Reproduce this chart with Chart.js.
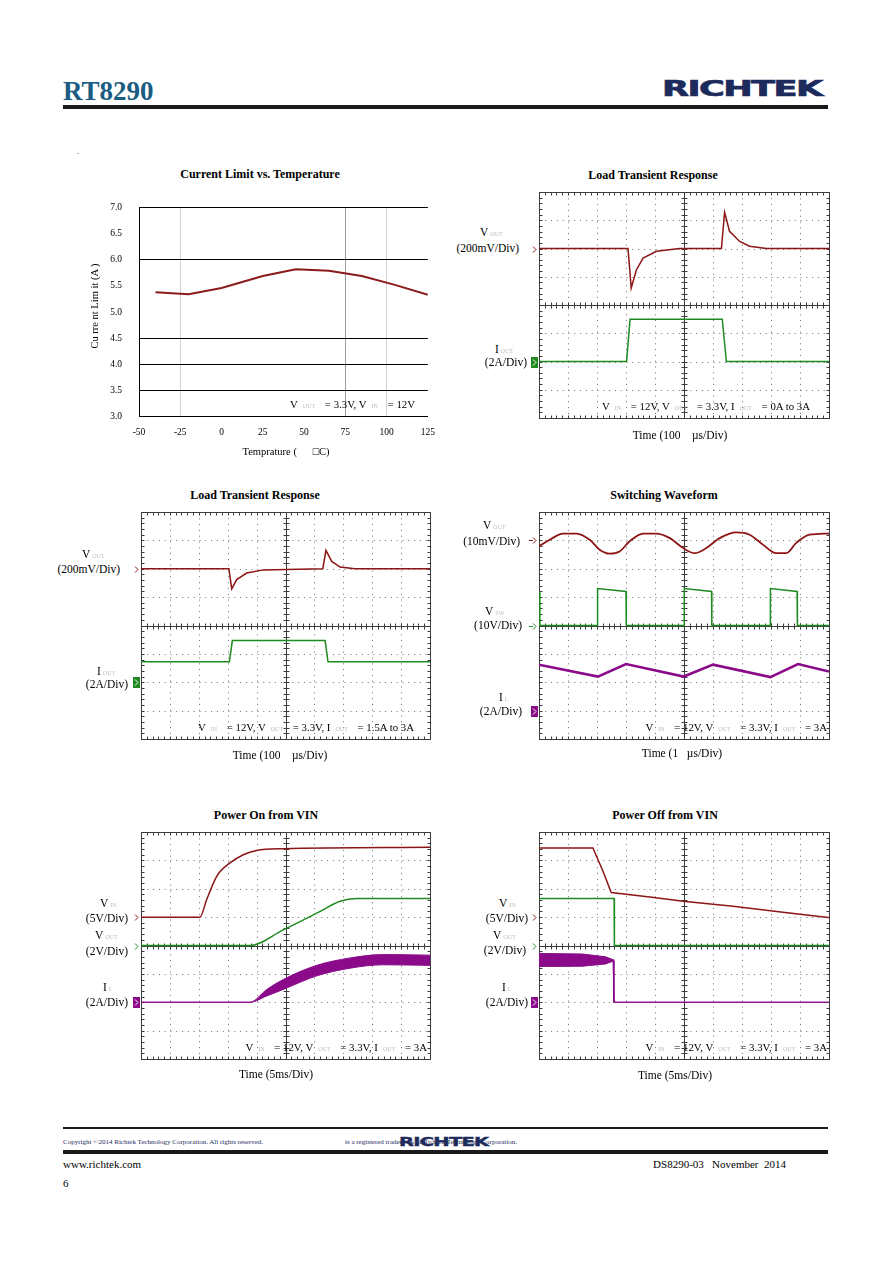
<!DOCTYPE html>
<html lang="en">
<head>
<meta charset="UTF-8" />
<script src="https://cdn.jsdelivr.net/npm/chart.js"></script>
<title>RT8290</title>
<style>
  body { margin: 0; width: 892px; height: 1263px; position: relative; background: #fff; font-family: "Liberation Serif", serif; color: #000; overflow: hidden; }
  canvas { position: absolute; }
  .t, .l, .r { position: absolute; white-space: nowrap; line-height: 1; }
  .t { transform: translate(-50%, -50%); }
  .l { transform: translate(0, -50%); }
  .r { transform: translate(-100%, -50%); }
  .ttl { font-weight: bold; font-size: 12px; }
  .lab { font-size: 11.5px; }
  .ann { font-size: 10.8px; }
  .s { font-size: 6px; color: #bdbdbd; margin: 0 3px 0 2px; }
  .ann .s { margin: 0 7px 0 5px; }
  .bar { position: absolute; background: #1a1a1a; }
  .logo { font-family: "DejaVu Sans"; font-weight: bold; color: #1d2b5c; -webkit-text-stroke: 0.7px #1d2b5c; transform-origin: left center; }
</style>
</head>
<body>
  <!-- header -->
  <div class="l" style="left:63px;top:91px;font-size:27px;font-weight:bold;color:#1b5c82">RT8290</div>
  <div class="l logo" style="left:662px;top:89px;font-size:22px;letter-spacing:-1px;transform:translate(0,-50%) scaleX(1.6)">RICHTEK</div>
  <div class="bar" style="left:63px;top:105px;width:765px;height:4px"></div>
  <div class="t" style="left:78px;top:152px;font-size:8px">.</div>

  <!-- chart 1 -->
  <div class="t ttl" style="left:260px;top:174px">Current Limit vs. Temperature</div>
  <canvas id="c1" width="350" height="254" style="left:95px;top:185px"></canvas>
  <div class="t" style="left:95px;top:306px;font-size:10.5px;transform:translate(-50%,-50%) rotate(-90deg)">Cu rre nt Lim it (A )</div>
  <div class="r ann" style="left:415px;top:404px">V<span class="s">OUT</span> = 3.3V, V<span class="s">IN</span> = 12V</div>
  <div class="t lab" style="left:286px;top:452px;font-size:10.5px">Temprature (&nbsp;&nbsp;&nbsp;&nbsp;&nbsp;&nbsp;&#9633;C)</div>

  <!-- chart 2 -->
  <div class="t ttl" style="left:653px;top:175px">Load Transient Response</div>
  <canvas id="c2" width="308" height="234" style="left:525px;top:188px"></canvas>
  <div class="l lab" style="left:480px;top:233px">V<span class="s">OUT</span></div>
  <div class="r lab" style="left:519px;top:249px">(200mV/Div)</div>
  <div class="l lab" style="left:495px;top:350px">I<span class="s">OUT</span></div>
  <div class="r lab" style="left:527px;top:363px">(2A/Div)</div>
  <div class="r ann" style="left:810px;top:406px">V<span class="s">IN</span> = 12V, V<span class="s">OUT</span> = 3.3V, I<span class="s">OUT</span> = 0A to 3A</div>
  <div class="t lab" style="left:680px;top:436px">Time (100&nbsp;&nbsp;&nbsp;&nbsp;&micro;s/Div)</div>

  <!-- chart 3 -->
  <div class="t ttl" style="left:255px;top:495px">Load Transient Response</div>
  <canvas id="c3" width="307" height="235" style="left:127px;top:508px"></canvas>
  <div class="l lab" style="left:82px;top:555px">V<span class="s">OUT</span></div>
  <div class="r lab" style="left:120px;top:570px">(200mV/Div)</div>
  <div class="l lab" style="left:97px;top:672px">I<span class="s">OUT</span></div>
  <div class="r lab" style="left:128px;top:685px">(2A/Div)</div>
  <div class="r ann" style="left:414px;top:727px">V<span class="s">IN</span> = 12V, V<span class="s">OUT</span> = 3.3V, I<span class="s">OUT</span> = 1.5A to 3A</div>
  <div class="t lab" style="left:280px;top:756px">Time (100&nbsp;&nbsp;&nbsp;&nbsp;&micro;s/Div)</div>

  <!-- chart 4 -->
  <div class="t ttl" style="left:664px;top:495px">Switching Waveform</div>
  <canvas id="c4" width="308" height="235" style="left:525px;top:508px"></canvas>
  <div class="l lab" style="left:483px;top:526px">V<span class="s">OUT</span></div>
  <div class="r lab" style="left:520px;top:542px">(10mV/Div)</div>
  <div class="l lab" style="left:485px;top:612px">V<span class="s">SW</span></div>
  <div class="r lab" style="left:522px;top:626px">(10V/Div)</div>
  <div class="l lab" style="left:499px;top:698px">I<span class="s">L</span></div>
  <div class="r lab" style="left:522px;top:712px">(2A/Div)</div>
  <div class="r ann" style="left:827px;top:727px">V<span class="s">IN</span> = 12V, V<span class="s">OUT</span> = 3.3V, I<span class="s">OUT</span> = 3A</div>
  <div class="t lab" style="left:682px;top:754px">Time (1&nbsp;&nbsp;&nbsp;&micro;s/Div)</div>

  <!-- chart 5 -->
  <div class="t ttl" style="left:266px;top:815px">Power On from VIN</div>
  <canvas id="c5" width="307" height="235" style="left:127px;top:828px"></canvas>
  <div class="l lab" style="left:100px;top:904px">V<span class="s">IN</span></div>
  <div class="r lab" style="left:128px;top:919px">(5V/Div)</div>
  <div class="l lab" style="left:95px;top:936px">V<span class="s">OUT</span></div>
  <div class="r lab" style="left:128px;top:952px">(2V/Div)</div>
  <div class="l lab" style="left:103px;top:988px">I<span class="s">L</span></div>
  <div class="r lab" style="left:128px;top:1003px">(2A/Div)</div>
  <div class="r ann" style="left:427px;top:1047px">V<span class="s">IN</span> = 12V, V<span class="s">OUT</span> = 3.3V, I<span class="s">OUT</span> = 3A</div>
  <div class="t lab" style="left:276px;top:1075px">Time (5ms/Div)</div>

  <!-- chart 6 -->
  <div class="t ttl" style="left:665px;top:815px">Power Off from VIN</div>
  <canvas id="c6" width="308" height="235" style="left:525px;top:828px"></canvas>
  <div class="l lab" style="left:499px;top:904px">V<span class="s">IN</span></div>
  <div class="r lab" style="left:528px;top:919px">(5V/Div)</div>
  <div class="l lab" style="left:493px;top:936px">V<span class="s">OUT</span></div>
  <div class="r lab" style="left:526px;top:951px">(2V/Div)</div>
  <div class="l lab" style="left:502px;top:988px">I<span class="s">L</span></div>
  <div class="r lab" style="left:528px;top:1003px">(2A/Div)</div>
  <div class="r ann" style="left:827px;top:1047px">V<span class="s">IN</span> = 12V, V<span class="s">OUT</span> = 3.3V, I<span class="s">OUT</span> = 3A</div>
  <div class="t lab" style="left:675px;top:1076px">Time (5ms/Div)</div>

  <!-- footer -->
  <div class="bar" style="left:63px;top:1127px;width:765px;height:2px"></div>
  <div class="l" style="left:63px;top:1142px;font-size:7px;color:#1d2b5c">Copyright &copy;2014 Richtek Technology Corporation. All rights reserved.</div>
  <div class="l" style="left:345px;top:1142px;font-size:7px;color:#1d2b5c">is a registered trademark of Richtek Technology Corporation.</div>
  <div class="l logo" style="left:399px;top:1141px;font-size:13px;letter-spacing:-0.5px;-webkit-text-stroke:0.4px #1d2b5c;transform:translate(0,-50%) scaleX(1.5)">RICHTEK</div>
  <div class="bar" style="left:63px;top:1150px;width:765px;height:3.5px"></div>
  <div class="l" style="left:63px;top:1164px;font-size:11px">www.richtek.com</div>
  <div class="r" style="left:786px;top:1164px;font-size:11px">DS8290-03&nbsp;&nbsp; November&nbsp; 2014</div>
  <div class="l" style="left:63px;top:1183px;font-size:11px">6</div>

<script>
  // ---- Current Limit vs. Temperature ----
  const tempC = [-40, -20, 0, 25, 45, 65, 85, 105, 125];
  const currentLimit = [5.38, 5.34, 5.46, 5.69, 5.82, 5.79, 5.69, 5.52, 5.33];
  const tempTicks = [-50, -25, 0, 25, 50, 75, 100, 125];

  // ---- scope traces, values in divisions (10 x 8 graticule) ----
  // Load transient 0A -> 3A
  const lt1VoutT = [0, 3.07, 3.18, 3.36, 3.59, 4.05, 4.85, 6.29, 6.4, 6.57, 6.92, 7.26, 7.84, 10];
  const lt1Vout  = [6.0, 6.0, 4.6, 5.25, 5.66, 5.9, 6.0, 6.0, 7.28, 6.61, 6.25, 6.08, 6.0, 6.0];
  const lt1IoutT = [0, 3.02, 3.14, 6.32, 6.46, 10];
  const lt1Iout  = [2.0, 2.0, 3.5, 3.5, 2.0, 2.0];

  // Load transient 1.5A -> 3A
  const lt2VoutT = [0, 3.04, 3.14, 3.31, 3.66, 4.23, 6.29, 6.4, 6.6, 6.89, 7.4, 10];
  const lt2Vout  = [6.0, 6.0, 5.29, 5.62, 5.85, 5.96, 6.0, 6.65, 6.26, 6.06, 6.0, 6.0];
  const lt2IoutT = [0, 3.06, 3.16, 6.37, 6.47, 10];
  const lt2Iout  = [2.72, 2.72, 3.47, 3.47, 2.72, 2.72];

  // Switching waveform
  const swVoutT = [0, 0.37, 0.83, 1.29, 1.75, 2.09, 2.44, 2.78, 3.13, 3.59, 4.05, 4.51, 4.97, 5.37, 5.77, 6.23, 6.8, 7.26, 7.72, 8.18, 8.53, 8.87, 9.33, 10];
  const swVout  = [6.79, 7.02, 7.24, 7.24, 7.02, 6.67, 6.53, 6.61, 6.97, 7.24, 7.24, 7.08, 6.73, 6.55, 6.73, 7.08, 7.28, 7.2, 6.85, 6.55, 6.55, 6.91, 7.2, 7.24];
  const swVswT = [0, 0.03, 0.03, 2.01, 2.02, 3.0, 3.01, 5.0, 5.01, 5.95, 5.96, 7.97, 7.98, 8.9, 8.91, 10];
  const swVsw  = [5.2, 5.2, 4.0, 4.0, 5.3, 5.2, 4.0, 4.0, 5.3, 5.2, 4.0, 4.0, 5.3, 5.2, 4.0, 4.0];
  const swIlT = [0, 2.03, 3.0, 4.99, 6.0, 7.98, 8.93, 10];
  const swIl  = [2.62, 2.2, 2.64, 2.2, 2.62, 2.18, 2.64, 2.38];

  // Power on from VIN
  const onVinT = [0, 2.04, 2.27, 2.62, 3.08, 3.54, 4.0, 4.92, 10];
  const onVin  = [5.0, 5.0, 5.61, 6.44, 6.91, 7.2, 7.35, 7.41, 7.46];
  const onVoutT = [0, 3.77, 4.92, 6.08, 6.89, 7.46, 10];
  const onVout  = [4.0, 4.0, 4.55, 5.14, 5.56, 5.66, 5.66];
  const onIlT   = [0, 3.77, 4.35, 4.92, 6.08, 7.23, 8.39, 10];
  const onIlHi  = [2.0, 2.0, 2.45, 2.8, 3.3, 3.56, 3.68, 3.66];
  const onIlLo  = [2.0, 2.0, 2.22, 2.45, 2.93, 3.2, 3.32, 3.3];

  // Power off from VIN
  const offVinT = [0, 1.86, 2.21, 2.49, 3.82, 4.97, 6.69, 8.41, 9.97, 10];
  const offVin  = [7.44, 7.44, 6.61, 5.87, 5.71, 5.56, 5.38, 5.17, 4.99, 4.99];
  const offVoutT = [0, 2.59, 2.6, 10];
  const offVout  = [5.66, 5.66, 4.0, 4.0];
  const offIlT   = [0, 1.5, 2.3, 2.56, 2.58, 10];
  const offIlHi  = [3.72, 3.7, 3.6, 3.5, 2.0, 2.0];
  const offIlLo  = [3.26, 3.27, 3.35, 3.45, 2.0, 2.0];

  const RED = '#8c1515', GREEN = '#1f8a1f', PURPLE = '#8a0a8a';
  const SERIF = '"Liberation Serif", serif';

  new Chart(document.getElementById('c1'), {
    type: 'line',
    data: {
      datasets: [{
        data: tempC.map((t, i) => ({ x: t, y: currentLimit[i] })),
        borderColor: '#8b1a1a',
        borderWidth: 2,
        pointRadius: 0,
        tension: 0,
      }],
    },
    options: {
      responsive: false,
      animation: false,
      layout: { padding: { left: 0, right: 16, top: 7, bottom: 0 } },
      scales: {
        x: {
          type: 'linear', min: -50, max: 125,
          afterBuildTicks: s => { s.ticks = tempTicks.map(v => ({ value: v })); },
          afterFit: s => { s.height = 22; },
          ticks: { color: '#000', padding: 10, font: { family: SERIF, size: 9.5 }, maxRotation: 0 },
          grid: {
            drawTicks: false,
            color: c => ({ '-25': '#d0d0d0', '75': '#9a9a9a', '100': '#d0d0d0' })[c.tick && c.tick.value] || 'rgba(0,0,0,0)',
          },
          border: { color: '#000', width: 1 },
        },
        y: {
          min: 3, max: 7,
          afterFit: s => { s.width = 44; },
          ticks: { stepSize: 0.5, color: '#000', padding: 17, font: { family: SERIF, size: 9.5 }, callback: v => v.toFixed(1) },
          grid: {
            drawTicks: false,
            color: c => [7, 6, 4.5, 4, 3.5].includes(c.tick && c.tick.value) ? '#000' : 'rgba(0,0,0,0)',
          },
          border: { color: '#000', width: 1 },
        },
      },
      plugins: { legend: { display: false }, tooltip: { enabled: false } },
    },
  });

  // oscilloscope graticule and channel markers
  const scopeGrid = {
    id: 'scopeGrid',
    beforeDatasetsDraw(chart) {
      const { ctx, scales: { x, y } } = chart;
      const X = v => Math.round(x.getPixelForValue(v)) + 0.5;
      const Y = v => Math.round(y.getPixelForValue(v)) + 0.5;
      ctx.save();
      ctx.lineWidth = 1;
      ctx.strokeStyle = '#6e6e6e';
      ctx.setLineDash([1, 4.8]);
      ctx.beginPath();
      for (let i = 1; i < 10; i++) if (i !== 5) { ctx.moveTo(X(i), Y(8)); ctx.lineTo(X(i), Y(0)); }
      for (let j = 1; j < 8; j++) if (j !== 4) { ctx.moveTo(X(0), Y(j)); ctx.lineTo(X(10), Y(j)); }
      ctx.stroke();
      ctx.setLineDash([]);
      ctx.strokeStyle = '#3c3c3c';
      ctx.beginPath();
      ctx.moveTo(X(5), Y(8)); ctx.lineTo(X(5), Y(0));
      ctx.moveTo(X(0), Y(4)); ctx.lineTo(X(10), Y(4));
      for (let k = 1; k < 50; k++) {
        const px = X(k / 5);
        ctx.moveTo(px, Y(4) - 3); ctx.lineTo(px, Y(4) + 3);
        ctx.moveTo(px, Y(8)); ctx.lineTo(px, Y(8) + 3);
        ctx.moveTo(px, Y(0)); ctx.lineTo(px, Y(0) - 3);
      }
      for (let k = 1; k < 40; k++) {
        const py = Y(k / 5);
        ctx.moveTo(X(5) - 3, py); ctx.lineTo(X(5) + 3, py);
        ctx.moveTo(X(0), py); ctx.lineTo(X(0) + 3, py);
        ctx.moveTo(X(10), py); ctx.lineTo(X(10) - 3, py);
      }
      ctx.stroke();
      ctx.strokeRect(X(0), Y(8), X(10) - X(0), Y(0) - Y(8));
      ctx.restore();
    },
    afterDraw(chart, args, opts) {
      const { ctx, chartArea: a, scales: { y } } = chart;
      ctx.save();
      (opts.markers || []).forEach(m => {
        const py = Math.round(y.getPixelForValue(m.v));
        const x0 = a.left - 8;
        if (m.box) {
          ctx.fillStyle = m.c;
          ctx.fillRect(x0, py - 5, 7, 11);
          ctx.strokeStyle = '#fff';
        } else {
          ctx.strokeStyle = m.c;
        }
        ctx.lineWidth = 1;
        ctx.beginPath();
        if (m.dash) { ctx.moveTo(x0 - 2, py + 0.5); ctx.lineTo(x0 + 2, py + 0.5); }
        ctx.moveTo(x0 + 2, py - 2.5); ctx.lineTo(x0 + 5, py + 0.5); ctx.lineTo(x0 + 2, py + 3.5);
        ctx.stroke();
      });
      ctx.restore();
    },
  };

  function trace(t, v, color, extra) {
    return Object.assign({
      data: t.map((tt, i) => ({ x: tt, y: v[i] })),
      borderColor: color,
      backgroundColor: color,
      borderWidth: 1.5,
      pointRadius: 0,
      fill: false,
      tension: 0,
    }, extra || {});
  }

  function scope(id, datasets, markers) {
    return new Chart(document.getElementById(id), {
      type: 'line',
      data: { datasets },
      options: {
        responsive: false,
        animation: false,
        layout: { padding: { left: 14, right: 4, top: 4, bottom: 4 } },
        scales: {
          x: { type: 'linear', min: 0, max: 10, display: false },
          y: { min: 0, max: 8, display: false },
        },
        plugins: { legend: { display: false }, tooltip: { enabled: false }, scopeGrid: { markers } },
      },
      plugins: [scopeGrid],
    });
  }

  scope('c2', [
    trace(lt1VoutT, lt1Vout, RED),
    trace(lt1IoutT, lt1Iout, GREEN),
  ], [{ v: 6, c: RED }, { v: 2, c: GREEN, box: true }]);

  scope('c3', [
    trace(lt2VoutT, lt2Vout, RED),
    trace(lt2IoutT, lt2Iout, GREEN),
  ], [{ v: 6, c: RED }, { v: 2, c: GREEN, box: true }]);

  scope('c4', [
    trace(swVoutT, swVout, RED, { cubicInterpolationMode: 'monotone', borderWidth: 1.8 }),
    trace(swVswT, swVsw, GREEN),
    trace(swIlT, swIl, PURPLE, { borderWidth: 2.6 }),
  ], [{ v: 7, c: RED, dash: true }, { v: 4, c: GREEN, dash: true }, { v: 1, c: PURPLE, box: true }]);

  scope('c5', [
    trace(onVinT, onVin, RED, { cubicInterpolationMode: 'monotone' }),
    trace(onVoutT, onVout, GREEN, { cubicInterpolationMode: 'monotone' }),
    trace(onIlT, onIlHi, PURPLE, { cubicInterpolationMode: 'monotone', borderWidth: 1 }),
    trace(onIlT, onIlLo, PURPLE, { cubicInterpolationMode: 'monotone', borderWidth: 1, fill: '-1' }),
  ], [{ v: 5, c: RED }, { v: 4, c: GREEN }, { v: 2, c: PURPLE, box: true }]);

  scope('c6', [
    trace(offVinT, offVin, RED),
    trace(offVoutT, offVout, GREEN),
    trace(offIlT, offIlHi, PURPLE, { borderWidth: 1 }),
    trace(offIlT, offIlLo, PURPLE, { borderWidth: 1, fill: '-1' }),
  ], [{ v: 5, c: RED }, { v: 4, c: GREEN }, { v: 2, c: PURPLE, box: true }]);
</script>
</body>
</html>
